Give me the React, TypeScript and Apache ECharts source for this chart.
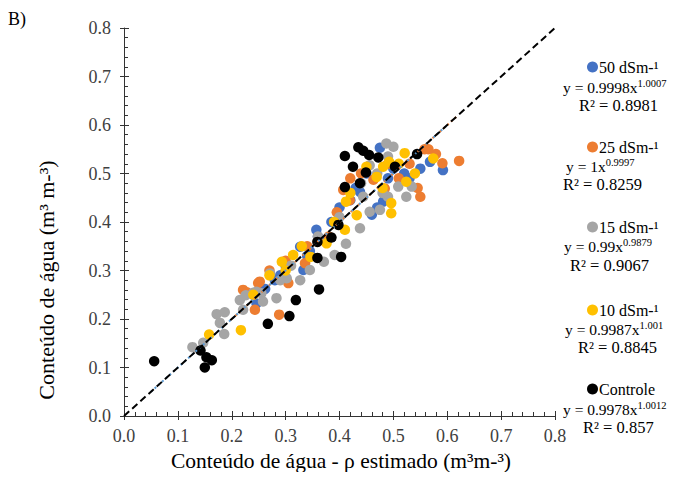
import React, { useEffect, useRef } from "react";
import * as echarts from "echarts";

const FONT = '"Liberation Serif", "Times New Roman", serif';

const xName = "Conteúdo de água - ρ estimado (m³m-³)";
const yName = "Conteúdo de água (m³ m-³)";

const seriesNames = ["50 dSm-¹", "25 dSm-¹", "15 dSm-¹", "10 dSm-¹", "Controle"];
const seriesColors = ["#4472C4", "#ED7D31", "#A5A5A5", "#FFC000", "#000000"];
const eqMain = ["y = 0.9998x", "y = 1x", "y = 0.99x", "y = 0.9987x", "y = 0.9978x"];
const eqExp = ["1.0007", "0.9997", "0.9879", "1.001", "1.0012"];
const r2Text = ["R² = 0.8981", "R² = 0.8259", "R² = 0.9067", "R² = 0.8845", "R² = 0.857"];

const s50: number[][] = [
  [0.246, 0.232], [0.262, 0.262], [0.29, 0.29], [0.3, 0.31], [0.327, 0.349], [0.333, 0.301],
  [0.345, 0.34], [0.357, 0.384], [0.37, 0.363], [0.36, 0.37], [0.385, 0.4], [0.4, 0.43],
  [0.42, 0.445], [0.438, 0.462], [0.45, 0.5], [0.475, 0.553], [0.481, 0.442], [0.47, 0.43],
  [0.49, 0.49], [0.5, 0.51], [0.52, 0.5], [0.53, 0.49], [0.55, 0.51], [0.568, 0.524],
  [0.592, 0.507], [0.46, 0.415], [0.43, 0.47], [0.28, 0.28], [0.24, 0.25], [0.34, 0.33],
];
const s25: number[][] = [
  [0.221, 0.26], [0.249, 0.274], [0.243, 0.219], [0.252, 0.277], [0.228, 0.255], [0.288, 0.209],
  [0.305, 0.274], [0.27, 0.3], [0.3, 0.32], [0.336, 0.315], [0.34, 0.35], [0.36, 0.36],
  [0.38, 0.37], [0.395, 0.42], [0.407, 0.466], [0.419, 0.445], [0.42, 0.49], [0.44, 0.5],
  [0.463, 0.487], [0.484, 0.469], [0.49, 0.52], [0.51, 0.49], [0.53, 0.52], [0.55, 0.452],
  [0.545, 0.47], [0.558, 0.55], [0.579, 0.54], [0.591, 0.521], [0.622, 0.526], [0.565, 0.55],
];
const s15: number[][] = [
  [0.127, 0.142], [0.147, 0.151], [0.172, 0.21], [0.187, 0.214], [0.178, 0.192], [0.186, 0.169],
  [0.215, 0.239], [0.226, 0.249], [0.24, 0.254], [0.221, 0.219], [0.255, 0.253], [0.246, 0.256],
  [0.258, 0.236], [0.283, 0.243], [0.271, 0.294], [0.302, 0.284], [0.327, 0.28], [0.345, 0.301],
  [0.371, 0.318], [0.391, 0.332], [0.412, 0.355], [0.438, 0.387], [0.456, 0.421], [0.475, 0.425],
  [0.49, 0.452], [0.509, 0.473], [0.524, 0.452], [0.534, 0.473], [0.487, 0.562], [0.49, 0.535],
  [0.444, 0.452], [0.5, 0.555], [0.456, 0.517], [0.44, 0.48], [0.31, 0.31], [0.29, 0.28],
  [0.36, 0.37], [0.4, 0.41], [0.47, 0.5], [0.48, 0.46],
];
const s10: number[][] = [
  [0.158, 0.168], [0.217, 0.177], [0.24, 0.25], [0.27, 0.29], [0.293, 0.318], [0.314, 0.332],
  [0.346, 0.328], [0.33, 0.35], [0.376, 0.356], [0.39, 0.4], [0.41, 0.384], [0.412, 0.442],
  [0.432, 0.414], [0.42, 0.46], [0.45, 0.514], [0.469, 0.493], [0.481, 0.514], [0.492, 0.524],
  [0.496, 0.439], [0.496, 0.418], [0.48, 0.47], [0.521, 0.542], [0.524, 0.483], [0.54, 0.5],
  [0.574, 0.531], [0.51, 0.52], [0.3, 0.3],
];
const sControle: number[][] = [
  [0.056, 0.113], [0.142, 0.135], [0.153, 0.121], [0.163, 0.115], [0.15, 0.1], [0.267, 0.19],
  [0.307, 0.206], [0.319, 0.239], [0.362, 0.261], [0.359, 0.326], [0.403, 0.328], [0.385, 0.368],
  [0.398, 0.394], [0.359, 0.359], [0.41, 0.536], [0.435, 0.554], [0.444, 0.547], [0.455, 0.538],
  [0.472, 0.533], [0.425, 0.514], [0.449, 0.502], [0.438, 0.48], [0.41, 0.472], [0.503, 0.514],
  [0.544, 0.54],
];
const allSeries = [s50, s25, s15, s10, sControle];

const refLine: number[][] = [[0, 0], [0.8, 0.8]];
const trendBlue: number[][] = [[0.05, 0.05], [0.6, 0.6]];
const trendOrange: number[][] = [[0.2, 0.2], [0.62, 0.62]];

const blockY = [
  [67, 87, 105],
  [147, 166, 184],
  [227, 246, 265],
  [310, 329, 347],
  [389, 409, 427],
];
const eqLeft = [563, 566, 564, 565, 563];
const r2Left = [579, 563, 570, 578, 583];

export default function App() {
  const ref = useRef<HTMLDivElement>(null);
  useEffect(() => {
    if (!ref.current) return;
    const chart = echarts.init(ref.current, null, { renderer: "svg" });
    const axisCommon = {
      type: "value",
      min: 0,
      max: 0.8,
      interval: 0.1,
      splitLine: { show: false },
    };
    const graphics: any[] = [
      {
        type: "text",
        x: 8,
        y: 19,
        style: { text: "B)", font: `18px ${FONT}`, fill: "#000", verticalAlign: "middle" },
      },
      {
        type: "text",
        x: 341,
        y: 461,
        style: {
          text: xName,
          font: `21.5px ${FONT}`,
          fill: "#000",
          align: "center",
          verticalAlign: "middle",
        },
      },
      {
        type: "text",
        x: 46,
        y: 280,
        rotation: Math.PI / 2,
        style: {
          text: yName,
          font: `22px ${FONT}`,
          fill: "#000",
          align: "center",
          verticalAlign: "middle",
        },
      },
    ];
    seriesNames.forEach((n, i) => {
      const [y0, y1, y2] = blockY[i];
      graphics.push({
        type: "circle",
        shape: { cx: 592.5, cy: y0, r: 5.5 },
        style: { fill: seriesColors[i] },
      });
      graphics.push({
        type: "text",
        x: 599,
        y: y0,
        style: { text: n, font: `16px ${FONT}`, fill: "#000", verticalAlign: "middle" },
      });
      graphics.push({
        type: "text",
        x: eqLeft[i],
        y: y1,
        style: {
          text: `{m|${eqMain[i]}}{s|${eqExp[i]}}`,
          verticalAlign: "middle",
          rich: {
            m: { fontFamily: FONT, fontSize: 15.5, lineHeight: 18, color: "#000" },
            s: { fontFamily: FONT, fontSize: 10.5, lineHeight: 12, verticalAlign: "top", color: "#000" },
          },
        },
      });
      graphics.push({
        type: "text",
        x: r2Left[i],
        y: y2,
        style: { text: r2Text[i], font: `16.5px ${FONT}`, fill: "#000", verticalAlign: "middle" },
      });
    });

    chart.setOption({
      animation: false,
      backgroundColor: "#fff",
      textStyle: { fontFamily: FONT },
      grid: { left: 124, right: 120, top: 28, bottom: 64 },
      xAxis: [
        {
          ...axisCommon,
          axisLine: { lineStyle: { color: "#333", width: 1 } },
          axisTick: { show: true, inside: true, length: 5, lineStyle: { color: "#333" } },
          minorTick: { show: true, splitNumber: 5, length: 4, lineStyle: { color: "#333" } },
          axisLabel: {
            fontFamily: FONT,
            fontSize: 18,
            color: "#404040",
            margin: 11,
            formatter: (v: number) => v.toFixed(1),
          },
        },
        {
          ...axisCommon,
          position: "bottom",
          axisLine: { show: false },
          axisTick: { show: true, inside: false, length: 4, lineStyle: { color: "#333" } },
          axisLabel: { show: false },
        },
      ],
      yAxis: [
        {
          ...axisCommon,
          axisLine: { lineStyle: { color: "#333", width: 1 } },
          axisTick: { show: true, inside: true, length: 5, lineStyle: { color: "#333" } },
          minorTick: { show: true, splitNumber: 5, length: 4, lineStyle: { color: "#333" } },
          axisLabel: {
            fontFamily: FONT,
            fontSize: 18,
            color: "#404040",
            margin: 13,
            formatter: (v: number) => v.toFixed(1),
          },
        },
        {
          ...axisCommon,
          position: "left",
          axisLine: { show: false },
          axisTick: { show: true, inside: false, length: 4, lineStyle: { color: "#333" } },
          axisLabel: { show: false },
        },
      ],
      series: [
        ...allSeries.map((d, i) => ({
          type: "scatter",
          name: seriesNames[i],
          data: d,
          symbol: "circle",
          symbolSize: 10.5,
          itemStyle: { color: seriesColors[i], opacity: 1 },
          z: 2 + i,
        })),
        {
          type: "line",
          data: trendOrange,
          symbol: "none",
          lineStyle: { color: "#ED7D31", width: 2, type: [2, 3] },
          z: 10,
        },
        {
          type: "line",
          data: trendBlue,
          symbol: "none",
          lineStyle: { color: "#5B9BD5", width: 2, type: [2, 3] },
          z: 11,
        },
        {
          type: "line",
          data: refLine,
          symbol: "none",
          lineStyle: { color: "#000", width: 2, type: [7, 4] },
          z: 12,
        },
      ],
      graphic: graphics,
    });
    return () => chart.dispose();
  }, []);
  return <div ref={ref} style={{ width: 675, height: 480, margin: -8 }} />;
}
